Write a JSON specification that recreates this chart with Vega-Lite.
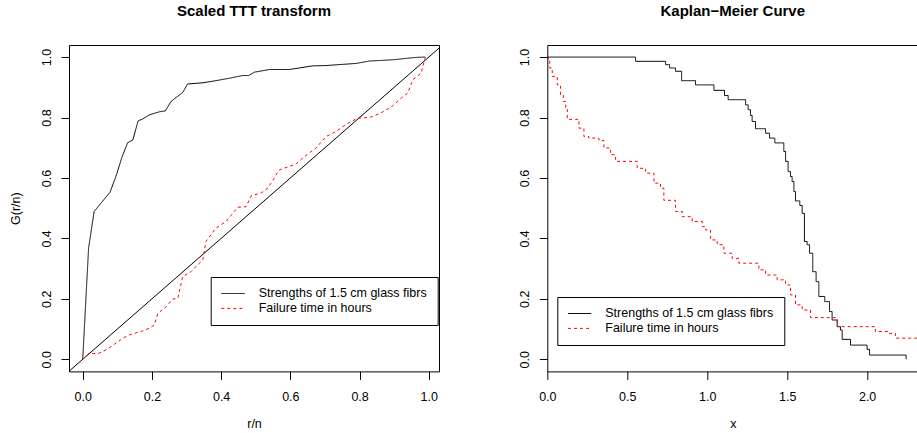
{
  "$schema": "https://vega.github.io/schema/vega-lite/v6.json",
  "background": "white",
  "padding": {"left": 9, "top": 3, "right": 0, "bottom": 0},
  "bounds": "flush",
  "spacing": 108.3,
  "datasets": {
    "ttt": [
      {"series": "Strengths of 1.5 cm glass fibrs", "r": 0, "G": 0},
      {"series": "Strengths of 1.5 cm glass fibrs", "r": 0.017, "G": 0.368},
      {"series": "Strengths of 1.5 cm glass fibrs", "r": 0.033, "G": 0.489},
      {"series": "Strengths of 1.5 cm glass fibrs", "r": 0.079, "G": 0.553},
      {"series": "Strengths of 1.5 cm glass fibrs", "r": 0.096, "G": 0.605},
      {"series": "Strengths of 1.5 cm glass fibrs", "r": 0.114, "G": 0.671},
      {"series": "Strengths of 1.5 cm glass fibrs", "r": 0.130, "G": 0.717},
      {"series": "Strengths of 1.5 cm glass fibrs", "r": 0.145, "G": 0.726},
      {"series": "Strengths of 1.5 cm glass fibrs", "r": 0.160, "G": 0.789},
      {"series": "Strengths of 1.5 cm glass fibrs", "r": 0.173, "G": 0.795},
      {"series": "Strengths of 1.5 cm glass fibrs", "r": 0.193, "G": 0.809},
      {"series": "Strengths of 1.5 cm glass fibrs", "r": 0.222, "G": 0.819},
      {"series": "Strengths of 1.5 cm glass fibrs", "r": 0.239, "G": 0.822},
      {"series": "Strengths of 1.5 cm glass fibrs", "r": 0.255, "G": 0.853},
      {"series": "Strengths of 1.5 cm glass fibrs", "r": 0.289, "G": 0.883},
      {"series": "Strengths of 1.5 cm glass fibrs", "r": 0.303, "G": 0.911},
      {"series": "Strengths of 1.5 cm glass fibrs", "r": 0.347, "G": 0.915},
      {"series": "Strengths of 1.5 cm glass fibrs", "r": 0.385, "G": 0.922},
      {"series": "Strengths of 1.5 cm glass fibrs", "r": 0.424, "G": 0.930},
      {"series": "Strengths of 1.5 cm glass fibrs", "r": 0.462, "G": 0.939},
      {"series": "Strengths of 1.5 cm glass fibrs", "r": 0.480, "G": 0.939},
      {"series": "Strengths of 1.5 cm glass fibrs", "r": 0.496, "G": 0.950},
      {"series": "Strengths of 1.5 cm glass fibrs", "r": 0.540, "G": 0.959},
      {"series": "Strengths of 1.5 cm glass fibrs", "r": 0.597, "G": 0.959},
      {"series": "Strengths of 1.5 cm glass fibrs", "r": 0.626, "G": 0.964},
      {"series": "Strengths of 1.5 cm glass fibrs", "r": 0.665, "G": 0.971},
      {"series": "Strengths of 1.5 cm glass fibrs", "r": 0.703, "G": 0.972},
      {"series": "Strengths of 1.5 cm glass fibrs", "r": 0.790, "G": 0.979},
      {"series": "Strengths of 1.5 cm glass fibrs", "r": 0.829, "G": 0.987},
      {"series": "Strengths of 1.5 cm glass fibrs", "r": 0.896, "G": 0.991},
      {"series": "Strengths of 1.5 cm glass fibrs", "r": 0.963, "G": 0.999},
      {"series": "Strengths of 1.5 cm glass fibrs", "r": 0.990, "G": 1.0},
      {"series": "Failure time in hours", "r": 0, "G": 0},
      {"series": "Failure time in hours", "r": 0.019, "G": 0.020},
      {"series": "Failure time in hours", "r": 0.043, "G": 0.018},
      {"series": "Failure time in hours", "r": 0.067, "G": 0.031},
      {"series": "Failure time in hours", "r": 0.092, "G": 0.050},
      {"series": "Failure time in hours", "r": 0.116, "G": 0.070},
      {"series": "Failure time in hours", "r": 0.140, "G": 0.083},
      {"series": "Failure time in hours", "r": 0.169, "G": 0.092},
      {"series": "Failure time in hours", "r": 0.193, "G": 0.103},
      {"series": "Failure time in hours", "r": 0.207, "G": 0.114},
      {"series": "Failure time in hours", "r": 0.217, "G": 0.152},
      {"series": "Failure time in hours", "r": 0.241, "G": 0.174},
      {"series": "Failure time in hours", "r": 0.260, "G": 0.199},
      {"series": "Failure time in hours", "r": 0.275, "G": 0.202},
      {"series": "Failure time in hours", "r": 0.289, "G": 0.274},
      {"series": "Failure time in hours", "r": 0.313, "G": 0.290},
      {"series": "Failure time in hours", "r": 0.332, "G": 0.312},
      {"series": "Failure time in hours", "r": 0.347, "G": 0.329},
      {"series": "Failure time in hours", "r": 0.356, "G": 0.390},
      {"series": "Failure time in hours", "r": 0.385, "G": 0.434},
      {"series": "Failure time in hours", "r": 0.414, "G": 0.456},
      {"series": "Failure time in hours", "r": 0.434, "G": 0.483},
      {"series": "Failure time in hours", "r": 0.448, "G": 0.503},
      {"series": "Failure time in hours", "r": 0.472, "G": 0.505},
      {"series": "Failure time in hours", "r": 0.487, "G": 0.541},
      {"series": "Failure time in hours", "r": 0.515, "G": 0.550},
      {"series": "Failure time in hours", "r": 0.535, "G": 0.566},
      {"series": "Failure time in hours", "r": 0.568, "G": 0.627},
      {"series": "Failure time in hours", "r": 0.597, "G": 0.638},
      {"series": "Failure time in hours", "r": 0.617, "G": 0.647},
      {"series": "Failure time in hours", "r": 0.641, "G": 0.671},
      {"series": "Failure time in hours", "r": 0.674, "G": 0.699},
      {"series": "Failure time in hours", "r": 0.703, "G": 0.737},
      {"series": "Failure time in hours", "r": 0.732, "G": 0.754},
      {"series": "Failure time in hours", "r": 0.766, "G": 0.781},
      {"series": "Failure time in hours", "r": 0.795, "G": 0.798},
      {"series": "Failure time in hours", "r": 0.829, "G": 0.800},
      {"series": "Failure time in hours", "r": 0.862, "G": 0.815},
      {"series": "Failure time in hours", "r": 0.894, "G": 0.837},
      {"series": "Failure time in hours", "r": 0.915, "G": 0.859},
      {"series": "Failure time in hours", "r": 0.939, "G": 0.881},
      {"series": "Failure time in hours", "r": 0.954, "G": 0.925},
      {"series": "Failure time in hours", "r": 0.978, "G": 0.947},
      {"series": "Failure time in hours", "r": 0.990, "G": 1.0}
    ],
    "diag": [
      {"r": -0.05, "G": -0.05},
      {"r": 1.05, "G": 1.05}
    ],
    "km": [
      {"series": "Strengths of 1.5 cm glass fibrs", "x": 0, "S": 1.0},
      {"series": "Strengths of 1.5 cm glass fibrs", "x": 0.552, "S": 0.986},
      {"series": "Strengths of 1.5 cm glass fibrs", "x": 0.740, "S": 0.975},
      {"series": "Strengths of 1.5 cm glass fibrs", "x": 0.765, "S": 0.964},
      {"series": "Strengths of 1.5 cm glass fibrs", "x": 0.802, "S": 0.953},
      {"series": "Strengths of 1.5 cm glass fibrs", "x": 0.840, "S": 0.922},
      {"series": "Strengths of 1.5 cm glass fibrs", "x": 0.927, "S": 0.908},
      {"series": "Strengths of 1.5 cm glass fibrs", "x": 1.042, "S": 0.890},
      {"series": "Strengths of 1.5 cm glass fibrs", "x": 1.108, "S": 0.873},
      {"series": "Strengths of 1.5 cm glass fibrs", "x": 1.131, "S": 0.859},
      {"series": "Strengths of 1.5 cm glass fibrs", "x": 1.240, "S": 0.842},
      {"series": "Strengths of 1.5 cm glass fibrs", "x": 1.256, "S": 0.826},
      {"series": "Strengths of 1.5 cm glass fibrs", "x": 1.271, "S": 0.807},
      {"series": "Strengths of 1.5 cm glass fibrs", "x": 1.281, "S": 0.787},
      {"series": "Strengths of 1.5 cm glass fibrs", "x": 1.302, "S": 0.763},
      {"series": "Strengths of 1.5 cm glass fibrs", "x": 1.365, "S": 0.748},
      {"series": "Strengths of 1.5 cm glass fibrs", "x": 1.390, "S": 0.732},
      {"series": "Strengths of 1.5 cm glass fibrs", "x": 1.423, "S": 0.716},
      {"series": "Strengths of 1.5 cm glass fibrs", "x": 1.479, "S": 0.688},
      {"series": "Strengths of 1.5 cm glass fibrs", "x": 1.490, "S": 0.655},
      {"series": "Strengths of 1.5 cm glass fibrs", "x": 1.506, "S": 0.621},
      {"series": "Strengths of 1.5 cm glass fibrs", "x": 1.521, "S": 0.605},
      {"series": "Strengths of 1.5 cm glass fibrs", "x": 1.531, "S": 0.588},
      {"series": "Strengths of 1.5 cm glass fibrs", "x": 1.542, "S": 0.555},
      {"series": "Strengths of 1.5 cm glass fibrs", "x": 1.552, "S": 0.524},
      {"series": "Strengths of 1.5 cm glass fibrs", "x": 1.579, "S": 0.509},
      {"series": "Strengths of 1.5 cm glass fibrs", "x": 1.594, "S": 0.483},
      {"series": "Strengths of 1.5 cm glass fibrs", "x": 1.608, "S": 0.390},
      {"series": "Strengths of 1.5 cm glass fibrs", "x": 1.625, "S": 0.379},
      {"series": "Strengths of 1.5 cm glass fibrs", "x": 1.640, "S": 0.351},
      {"series": "Strengths of 1.5 cm glass fibrs", "x": 1.660, "S": 0.290},
      {"series": "Strengths of 1.5 cm glass fibrs", "x": 1.681, "S": 0.257},
      {"series": "Strengths of 1.5 cm glass fibrs", "x": 1.698, "S": 0.208},
      {"series": "Strengths of 1.5 cm glass fibrs", "x": 1.735, "S": 0.191},
      {"series": "Strengths of 1.5 cm glass fibrs", "x": 1.765, "S": 0.158},
      {"series": "Strengths of 1.5 cm glass fibrs", "x": 1.781, "S": 0.130},
      {"series": "Strengths of 1.5 cm glass fibrs", "x": 1.813, "S": 0.108},
      {"series": "Strengths of 1.5 cm glass fibrs", "x": 1.833, "S": 0.097},
      {"series": "Strengths of 1.5 cm glass fibrs", "x": 1.844, "S": 0.066},
      {"series": "Strengths of 1.5 cm glass fibrs", "x": 1.896, "S": 0.047},
      {"series": "Strengths of 1.5 cm glass fibrs", "x": 2.000, "S": 0.033},
      {"series": "Strengths of 1.5 cm glass fibrs", "x": 2.015, "S": 0.014},
      {"series": "Strengths of 1.5 cm glass fibrs", "x": 2.244, "S": 0.0},
      {"series": "Failure time in hours", "x": 0, "S": 1.0},
      {"series": "Failure time in hours", "x": 0.006, "S": 0.986},
      {"series": "Failure time in hours", "x": 0.015, "S": 0.964},
      {"series": "Failure time in hours", "x": 0.031, "S": 0.936},
      {"series": "Failure time in hours", "x": 0.0625, "S": 0.908},
      {"series": "Failure time in hours", "x": 0.083, "S": 0.875},
      {"series": "Failure time in hours", "x": 0.100, "S": 0.853},
      {"series": "Failure time in hours", "x": 0.115, "S": 0.831},
      {"series": "Failure time in hours", "x": 0.125, "S": 0.794},
      {"series": "Failure time in hours", "x": 0.177, "S": 0.794},
      {"series": "Failure time in hours", "x": 0.198, "S": 0.765},
      {"series": "Failure time in hours", "x": 0.229, "S": 0.737},
      {"series": "Failure time in hours", "x": 0.260, "S": 0.732},
      {"series": "Failure time in hours", "x": 0.323, "S": 0.724},
      {"series": "Failure time in hours", "x": 0.354, "S": 0.699},
      {"series": "Failure time in hours", "x": 0.396, "S": 0.677},
      {"series": "Failure time in hours", "x": 0.427, "S": 0.655},
      {"series": "Failure time in hours", "x": 0.510, "S": 0.655},
      {"series": "Failure time in hours", "x": 0.5625, "S": 0.632},
      {"series": "Failure time in hours", "x": 0.615, "S": 0.616},
      {"series": "Failure time in hours", "x": 0.667, "S": 0.583},
      {"series": "Failure time in hours", "x": 0.708, "S": 0.566},
      {"series": "Failure time in hours", "x": 0.729, "S": 0.526},
      {"series": "Failure time in hours", "x": 0.792, "S": 0.526},
      {"series": "Failure time in hours", "x": 0.802, "S": 0.489},
      {"series": "Failure time in hours", "x": 0.844, "S": 0.472},
      {"series": "Failure time in hours", "x": 0.906, "S": 0.456},
      {"series": "Failure time in hours", "x": 0.969, "S": 0.439},
      {"series": "Failure time in hours", "x": 0.990, "S": 0.428},
      {"series": "Failure time in hours", "x": 1.021, "S": 0.395},
      {"series": "Failure time in hours", "x": 1.0625, "S": 0.379},
      {"series": "Failure time in hours", "x": 1.104, "S": 0.351},
      {"series": "Failure time in hours", "x": 1.156, "S": 0.334},
      {"series": "Failure time in hours", "x": 1.198, "S": 0.318},
      {"series": "Failure time in hours", "x": 1.281, "S": 0.318},
      {"series": "Failure time in hours", "x": 1.323, "S": 0.296},
      {"series": "Failure time in hours", "x": 1.365, "S": 0.279},
      {"series": "Failure time in hours", "x": 1.4375, "S": 0.263},
      {"series": "Failure time in hours", "x": 1.490, "S": 0.246},
      {"series": "Failure time in hours", "x": 1.521, "S": 0.213},
      {"series": "Failure time in hours", "x": 1.552, "S": 0.180},
      {"series": "Failure time in hours", "x": 1.594, "S": 0.163},
      {"series": "Failure time in hours", "x": 1.646, "S": 0.138},
      {"series": "Failure time in hours", "x": 1.781, "S": 0.138},
      {"series": "Failure time in hours", "x": 1.813, "S": 0.108},
      {"series": "Failure time in hours", "x": 2.010, "S": 0.108},
      {"series": "Failure time in hours", "x": 2.052, "S": 0.092},
      {"series": "Failure time in hours", "x": 2.135, "S": 0.086},
      {"series": "Failure time in hours", "x": 2.177, "S": 0.070},
      {"series": "Failure time in hours", "x": 2.400, "S": 0.070}
    ]
  },
  "config": {
    "font": "Liberation Sans",
    "view": {"stroke": "black", "strokeWidth": 1},
    "axis": {
      "grid": false, "domain": false,
      "tickColor": "black", "tickSize": 8, "tickWidth": 1,
      "labelFont": "Liberation Sans", "labelFontSize": 12.5, "labelColor": "black",
      "titleFont": "Liberation Sans", "titleFontSize": 12.5, "titleFontWeight": "normal", "titleColor": "black"
    },
    "axisX": {"labelBaseline": "alphabetic", "labelPadding": 20.8, "labelFlush": false, "labelAlign": "center", "titleBaseline": "alphabetic", "titleY": 56.5},
    "axisY": {"labelAngle": 270, "labelAlign": "center", "labelBaseline": "alphabetic", "labelPadding": 10.7, "titleAngle": 270, "titleBaseline": "alphabetic", "titleAlign": "center", "titleX": -49.5},
    "title": {"font": "Liberation Sans", "fontSize": 15, "fontWeight": "bold", "color": "black", "baseline": "alphabetic", "offset": 26, "anchor": "middle", "frame": "group"},
    "legend": {
      "orient": "none", "symbolType": "M-1,0H3", "symbolSize": 136, "symbolStrokeWidth": 1,
      "labelFont": "Liberation Sans", "labelFontSize": 12.5, "labelColor": "black",
      "strokeColor": "black", "padding": 10, "rowPadding": 1.9, "labelOffset": 25,
      "fillColor": "white", "labelLimit": 400
    }
  },
  "resolve": {
    "scale": {"color": "independent", "strokeDash": "independent"},
    "legend": {"color": "independent", "strokeDash": "independent"}
  },
  "hconcat": [
    {
      "width": 370,
      "height": 326.4,
      "title": "Scaled TTT transform",
      "layer": [
        {
          "data": {"name": "diag"},
          "mark": {"type": "line", "color": "black", "strokeWidth": 1, "clip": true},
          "encoding": {
            "x": {"field": "r", "type": "quantitative"},
            "y": {"field": "G", "type": "quantitative"}
          }
        },
        {
          "data": {"name": "ttt"},
          "mark": {"type": "line", "strokeWidth": 1, "clip": true},
          "encoding": {
            "x": {"field": "r", "type": "quantitative", "title": "r/n",
                  "scale": {"domain": [-0.0396, 1.0296], "nice": false, "zero": false},
                  "axis": {"values": [0, 0.2, 0.4, 0.6, 0.8, 1.0], "format": ".1f"}},
            "y": {"field": "G", "type": "quantitative", "title": "G(r/n)",
                  "scale": {"domain": [-0.04, 1.04], "nice": false, "zero": false},
                  "axis": {"values": [0, 0.2, 0.4, 0.6, 0.8, 1.0], "format": ".1f"}},
            "color": {"field": "series", "type": "nominal",
                      "scale": {"domain": ["Strengths of 1.5 cm glass fibrs", "Failure time in hours"], "range": ["black", "red"]},
                      "legend": {"title": null, "legendX": 141.7, "legendY": 232}},
            "strokeDash": {"field": "series", "type": "nominal",
                      "scale": {"domain": ["Strengths of 1.5 cm glass fibrs", "Failure time in hours"], "range": [[1, 0], [3, 3]]},
                      "legend": {"title": null, "legendX": 141.7, "legendY": 232}}
          }
        }
      ]
    },
    {
      "width": 371,
      "height": 326.4,
      "title": "Kaplan−Meier Curve",
      "data": {"name": "km"},
      "mark": {"type": "line", "interpolate": "step-after", "strokeWidth": 1, "clip": true},
      "encoding": {
        "x": {"field": "x", "type": "quantitative", "title": "x",
              "scale": {"domain": [0, 2.32], "nice": false, "zero": false},
              "axis": {"values": [0, 0.5, 1.0, 1.5, 2.0], "format": ".1f"}},
        "y": {"field": "S", "type": "quantitative", "title": null,
              "scale": {"domain": [-0.04, 1.04], "nice": false, "zero": false},
              "axis": {"values": [0, 0.2, 0.4, 0.6, 0.8, 1.0], "format": ".1f"}},
        "color": {"field": "series", "type": "nominal",
                  "scale": {"domain": ["Strengths of 1.5 cm glass fibrs", "Failure time in hours"], "range": ["black", "red"]},
                  "legend": {"title": null, "legendX": 10, "legendY": 252}},
        "strokeDash": {"field": "series", "type": "nominal",
                  "scale": {"domain": ["Strengths of 1.5 cm glass fibrs", "Failure time in hours"], "range": [[1, 0], [3, 3]]},
                  "legend": {"title": null, "legendX": 10, "legendY": 252}}
      }
    }
  ]
}
